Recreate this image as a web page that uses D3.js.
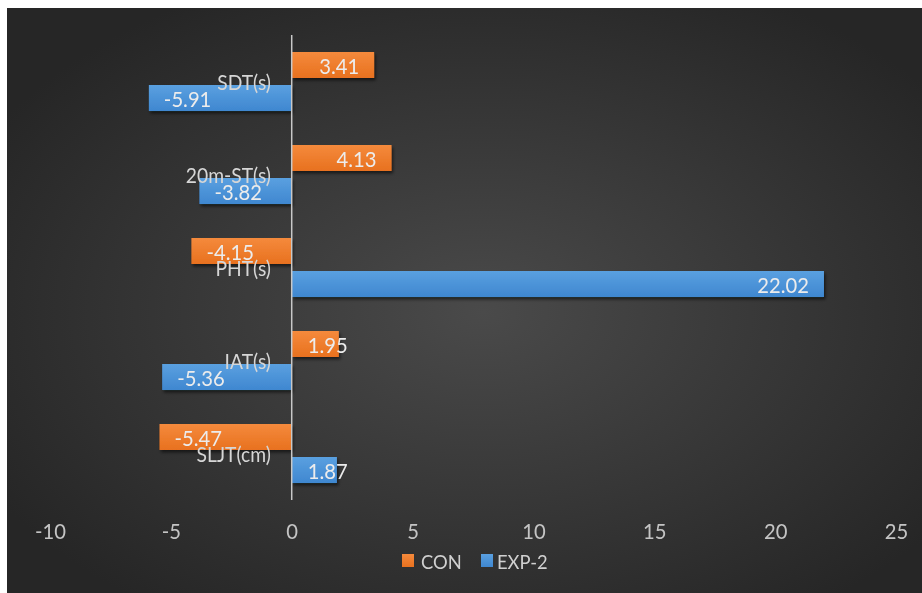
<!DOCTYPE html>
<html>
<head>
<meta charset="utf-8">
<script src="https://cdn.jsdelivr.net/npm/d3@7"></script>
<style>
  html, body { margin: 0; padding: 0; background: #ffffff; }
  svg { display: block; }
  text { font-family: Lato, "Open Sans", sans-serif; }
</style>
</head>
<body>
<svg id="chart" width="922" height="593"></svg>
<script>
// Test measures, listed top to bottom
const categories = ["SDT(s)", "20m-ST(s)", "PHT(s)", "IAT(s)", "SLJT(cm)"];
const seriesNames = ["CON", "EXP-2"];
const conValues = [3.41, 4.13, -4.15, 1.95, -5.47];
const expValues = [-5.91, -3.82, 22.02, -5.36, 1.87];
const tickValues = [-10, -5, 0, 5, 10, 15, 20, 25];

const seriesColors = { "CON": ["#f58a3c", "#e8711f"], "EXP-2": ["#5aa0e0", "#3f87d0"] };

const W = 922, H = 593;
const svg = d3.select("#chart");
const defs = svg.append("defs");

// Panel background
const bg = defs.append("radialGradient").attr("id", "bgGrad")
  .attr("cx", "52%").attr("cy", "52%").attr("r", "62%");
bg.append("stop").attr("offset", "0%").attr("stop-color", "#4a4a4a");
bg.append("stop").attr("offset", "100%").attr("stop-color", "#262626");

seriesNames.forEach((s, i) => {
  const g = defs.append("linearGradient").attr("id", "barGrad" + i)
    .attr("x1", 0).attr("y1", 0).attr("x2", 0).attr("y2", 1);
  g.append("stop").attr("offset", "0%").attr("stop-color", seriesColors[s][0]);
  g.append("stop").attr("offset", "100%").attr("stop-color", seriesColors[s][1]);
});

const shadow = defs.append("filter").attr("id", "shadow")
  .attr("x", "-10%").attr("y", "-30%").attr("width", "130%").attr("height", "180%");
shadow.append("feDropShadow").attr("dx", 1.5).attr("dy", 2.5)
  .attr("stdDeviation", 1.5).attr("flood-color", "#000").attr("flood-opacity", 0.55);

const glow = defs.append("filter").attr("id", "glow")
  .attr("x", "-200%").attr("y", "-5%").attr("width", "500%").attr("height", "110%");
glow.append("feGaussianBlur").attr("stdDeviation", 0.8);

const soft = defs.append("filter").attr("id", "soft");
soft.append("feGaussianBlur").attr("stdDeviation", 0.35);

svg.append("rect").attr("x", 7).attr("y", 8).attr("width", W - 7).attr("height", H - 8)
  .attr("fill", "url(#bgGrad)");

// Scales
const x = d3.scaleLinear().domain([-10, 25]).range([50, 896]);
const y = d3.scaleBand().domain(categories).range([35, 500]);
const ySub = d3.scaleBand().domain(seriesNames).range([0, y.bandwidth()])
  .paddingInner(0.212).paddingOuter(0.515);

// Vertical gridlines
svg.append("g").selectAll("line")
  .data(tickValues.filter(v => v !== 0))
  .join("line")
  .attr("x1", d => x(d)).attr("x2", d => x(d))
  .attr("y1", 35).attr("y2", 500)
  .attr("stroke", "#6a6a6a").attr("stroke-width", 1.6)
  .attr("filter", "url(#glow)");

// Bars
const rows = categories.map((c, i) => ({ cat: c, values: [conValues[i], expValues[i]] }));
const barData = [];
rows.forEach(r => seriesNames.forEach((s, j) => barData.push({ cat: r.cat, series: s, idx: j, value: r.values[j] })));

svg.append("g").selectAll("rect")
  .data(barData)
  .join("rect")
  .attr("x", d => Math.min(x(0), x(d.value)))
  .attr("width", d => Math.abs(x(d.value) - x(0)))
  .attr("y", d => y(d.cat) + ySub(d.series))
  .attr("height", ySub.bandwidth())
  .attr("fill", d => "url(#barGrad" + d.idx + ")")
  .attr("filter", "url(#shadow)");

// Zero axis line
svg.append("line")
  .attr("x1", x(0)).attr("x2", x(0)).attr("y1", 35).attr("y2", 500)
  .attr("stroke", "#c8c8c8").attr("stroke-width", 1.5);

// Narrow text helper: horizontally condensed label
const SX = 0.92;
function label(parent, px, py, str, size, fill, anchor) {
  const g = parent.append("g").attr("transform", `translate(${px},${py}) scale(${SX},1)`);
  return g.append("text").attr("x", 0).attr("y", 0)
    .attr("font-size", size).attr("fill", fill)
    .attr("text-anchor", anchor).attr("dominant-baseline", "central")
    .attr("filter", "url(#soft)")
    .text(str);
}

// Category labels
const catLayer = svg.append("g");
categories.forEach(c => {
  label(catLayer, 271, y(c) + y.bandwidth() / 2, c, 21, "#d6d6d6", "end");
});

// Data labels (inside end)
const dl = svg.append("g");
barData.forEach(d => {
  const str = d.value.toFixed(2);
  const cy = y(d.cat) + ySub(d.series) + ySub.bandwidth() / 2 + 1;
  const size = 22;
  const estW = str.length * 10.5 * SX;
  const pad = 15;
  let px, anchor;
  if (d.value >= 0) {
    const end = x(d.value) - pad;
    if (end - estW < x(0) + 15) { px = x(0) + 16; anchor = "start"; }
    else { px = end; anchor = "end"; }
  } else {
    px = x(d.value) + pad; anchor = "start";
  }
  label(dl, px, cy, str, size, "#ececec", anchor);
});

// X axis tick labels
const axisG = svg.append("g").attr("transform", "translate(0,531)");
const xAxis = d3.axisBottom(x).tickValues(tickValues).tickSize(0).tickPadding(0)
  .tickFormat(d3.format("d"));
axisG.call(xAxis);
axisG.select(".domain").remove();
axisG.selectAll(".tick text").remove();
axisG.selectAll(".tick").each(function(d) {
  label(d3.select(this), 0, 0, String(d), 22, "#c4c4c4", "middle");
});

// Legend
const legend = svg.append("g");
const legendItems = [
  { name: "CON", sx: 402, tx: 421 },
  { name: "EXP-2", sx: 481, tx: 497 }
];
legendItems.forEach((it, i) => {
  legend.append("rect").attr("x", it.sx).attr("y", 554).attr("width", 12).attr("height", 13)
    .attr("fill", "url(#barGrad" + i + ")");
  label(legend, it.tx, 561, it.name, 20, "#d0d0d0", "start");
});
</script>
</body>
</html>
